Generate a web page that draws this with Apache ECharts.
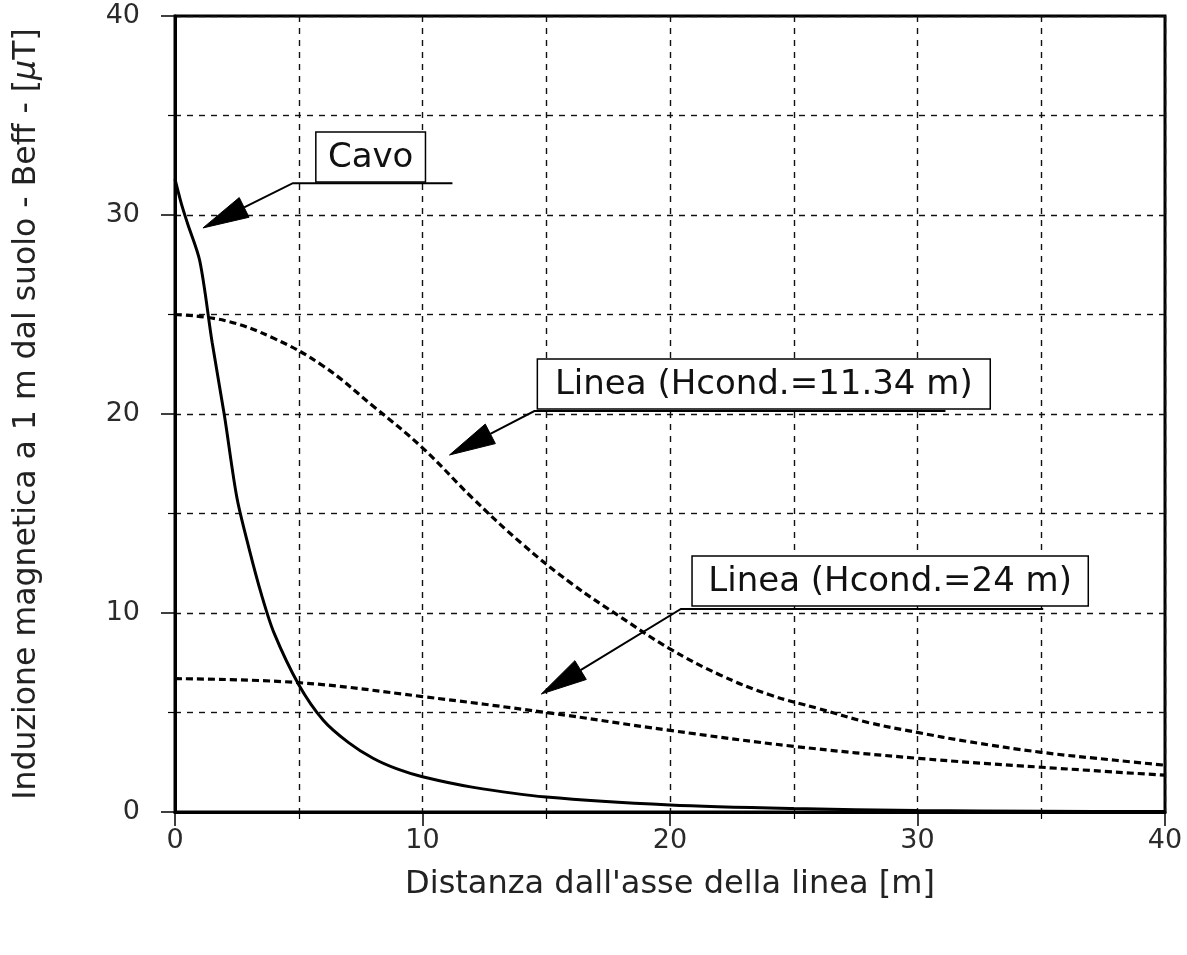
<!DOCTYPE html>
<html>
<head>
<meta charset="utf-8">
<script src="https://cdn.jsdelivr.net/npm/echarts@6/dist/echarts.min.js"></script>
<style>
  html, body { margin: 0; padding: 0; background: #fff; }
  #chart { width: 1187px; height: 955px; }
</style>
</head>
<body>
<div id="chart"></div>
<script>
// Distance from the line axis [m] and effective magnetic induction [µT]
const cavoX = [0, 0.25, 0.5, 1, 1.5, 2, 2.5, 3, 3.5, 4, 5, 6, 7, 8, 9, 10, 12, 15, 20, 25, 30, 35, 40];
const cavoB = [31.8, 30.6, 29.6, 27.7, 23.6, 19.9, 15.8, 13.2, 10.9, 9.0, 6.4, 4.6, 3.5, 2.7, 2.15, 1.77, 1.25, 0.75, 0.35, 0.17, 0.08, 0.04, 0.02];

const linea1134X = [0, 2, 4, 6, 8, 10, 12, 14, 16, 18, 20, 22, 24, 26, 28, 30, 32, 35, 38, 40];
const linea1134B = [25.0, 24.7, 23.8, 22.4, 20.4, 18.3, 15.8, 13.5, 11.5, 9.8, 8.2, 6.9, 5.9, 5.2, 4.5, 4.0, 3.55, 3.0, 2.6, 2.35];

const linea24X = [0, 5, 10, 15, 20, 25, 30, 35, 40];
const linea24B = [6.7, 6.5, 5.8, 5.0, 4.1, 3.3, 2.7, 2.25, 1.85];

const xTicks = [0, 10, 20, 30, 40];
const yTicks = [0, 10, 20, 30, 40];

// Callout boxes with leader arrows, anchored in data units
const callouts = [
  { text: 'Cavo', box: [5.69, 34.17, 10.12, 31.66], knee: [4.76, 31.6], lineEnd: 11.21, tip: [1.13, 29.35] },
  { text: 'Linea (Hcond.=11.34 m)', box: [14.64, 22.76, 32.94, 20.25], knee: [14.52, 20.15], lineEnd: 31.13, tip: [11.09, 17.94] },
  { text: 'Linea (Hcond.=24 m)', box: [20.89, 12.86, 36.9, 10.35], knee: [20.44, 10.2], lineEnd: 35.08, tip: [14.8, 5.93] }
];

const pairs = (xs, ys) => xs.map((x, i) => [x, ys[i]]);
const FONT = 'DejaVu Sans';

const gridDash = { color: '#111', width: 1.4, type: [6, 6] };

function valueAxis(ticks, extra) {
  return Object.assign({
    type: 'value',
    min: ticks[0],
    max: ticks[ticks.length - 1],
    interval: ticks[1] - ticks[0],
    axisLine: { show: true, onZero: false, lineStyle: { color: '#000', width: 3 } },
    axisTick: { show: true, inside: false, length: 14, lineStyle: { color: '#000', width: 1.5 } },
    minorTick: { show: true, splitNumber: 2, length: 7, lineStyle: { color: '#000', width: 1.2 } },
    splitLine: { show: true, lineStyle: gridDash },
    minorSplitLine: { show: true, lineStyle: gridDash }
  }, extra);
}

const chart = echarts.init(document.getElementById('chart'));

chart.setOption({
  animation: false,
  backgroundColor: '#fff',
  grid: { left: 175, right: 22, top: 16, bottom: 143, show: true, borderColor: '#000', borderWidth: 3 },
  xAxis: valueAxis(xTicks, {
    name: "Distanza dall'asse della linea [m]",
    nameLocation: 'middle',
    nameGap: 57,
    nameTextStyle: { color: '#222', fontFamily: FONT, fontSize: 32 },
    axisLabel: { color: '#2a2a2a', fontFamily: FONT, fontSize: 27, margin: 15 }
  }),
  yAxis: valueAxis(yTicks, {
    name: 'Induzione magnetica a 1 m dal suolo - Beff - [{mu|μ}T]',
    nameLocation: 'middle',
    nameGap: 132,
    nameTextStyle: {
      color: '#222', fontFamily: FONT, fontSize: 31.5,
      rich: { mu: { fontFamily: FONT, fontSize: 31.5, fontStyle: 'italic', color: '#222' } }
    },
    axisLabel: { color: '#2a2a2a', fontFamily: FONT, fontSize: 27, margin: 35 }
  }),
  series: [
    {
      name: 'Cavo', type: 'line', data: pairs(cavoX, cavoB),
      smooth: 0.3, showSymbol: false, z: 3,
      lineStyle: { color: '#000', width: 3, type: 'solid' }
    },
    {
      name: 'Linea (Hcond.=11.34 m)', type: 'line', data: pairs(linea1134X, linea1134B),
      smooth: 0.4, showSymbol: false, z: 3,
      lineStyle: { color: '#000', width: 3.2, type: [7, 4] }
    },
    {
      name: 'Linea (Hcond.=24 m)', type: 'line', data: pairs(linea24X, linea24B),
      smooth: 0.4, showSymbol: false, z: 3,
      lineStyle: { color: '#000', width: 3.2, type: [7, 4] }
    }
  ]
});

// Build callouts once the scales are known
function toPx(p) { return chart.convertToPixel({ gridIndex: 0 }, p); }

const graphics = [];
const ARROW_LEN = 46, ARROW_HALF = 11;
callouts.forEach(function (c) {
  const tl = toPx([c.box[0], c.box[1]]);
  const br = toPx([c.box[2], c.box[3]]);
  const knee = toPx(c.knee);
  const end = toPx([c.lineEnd, c.knee[1]]);
  const tip = toPx(c.tip);
  const dx = knee[0] - tip[0], dy = knee[1] - tip[1];
  const len = Math.sqrt(dx * dx + dy * dy);
  const ux = dx / len, uy = dy / len;
  const base = [tip[0] + ux * ARROW_LEN, tip[1] + uy * ARROW_LEN];
  const nx = -uy, ny = ux;

  graphics.push({
    type: 'rect', z: 20,
    shape: { x: tl[0], y: tl[1], width: br[0] - tl[0], height: br[1] - tl[1] },
    style: { fill: '#fff', stroke: '#000', lineWidth: 1.5 }
  });
  graphics.push({
    type: 'text', z: 21,
    style: {
      text: c.text, x: (tl[0] + br[0]) / 2, y: (tl[1] + br[1]) / 2 + 1,
      textAlign: 'center', textVerticalAlign: 'middle',
      font: '34px "' + FONT + '"', fill: '#111'
    }
  });
  graphics.push({
    type: 'polyline', z: 20,
    shape: { points: [end, knee, base] },
    style: { stroke: '#000', lineWidth: 2, fill: null }
  });
  graphics.push({
    type: 'polygon', z: 20,
    shape: { points: [tip, [base[0] + nx * ARROW_HALF, base[1] + ny * ARROW_HALF], [base[0] - nx * ARROW_HALF, base[1] - ny * ARROW_HALF]] },
    style: { fill: '#000', stroke: '#000', lineWidth: 1 }
  });
});

chart.setOption({ graphic: graphics });
</script>
</body>
</html>
